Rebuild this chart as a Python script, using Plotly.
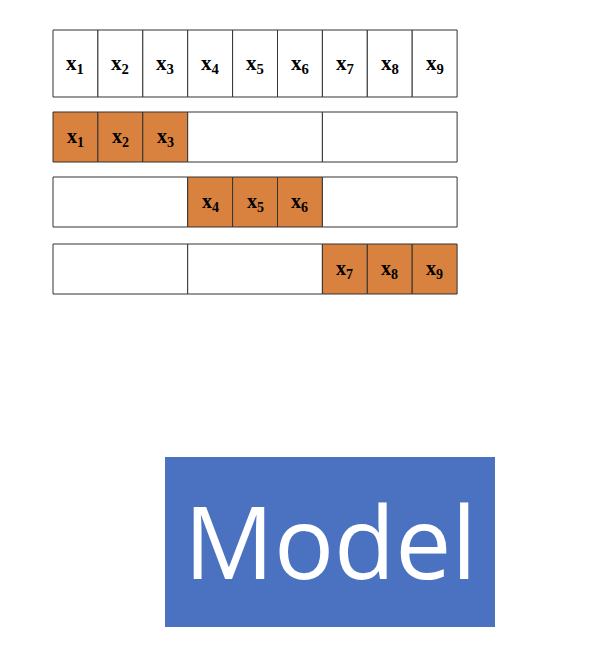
import plotly.graph_objects as go

# data
labels = ["x<sub>%d</sub>" % i for i in range(1, 10)]
groups = [[0, 1, 2], [3, 4, 5], [6, 7, 8]]   # which cells each split row keeps
model_text = "Model"

orange = "#d9823f"
blue = "#4a72c0"

off = 8                    # page body margin, compensate
x0, cw = 53 - off, 44.9
top_row = (30 - off, 97 - off)
split_rows = [(112 - off, 162 - off), (177 - off, 227 - off), (244 - off, 294 - off)]

fig = go.Figure()
shapes = []
annots = []

def cell_text(x, y, txt, size):
    annots.append(dict(x=x, y=y, text="<b>" + txt + "</b>", showarrow=False,
                       font=dict(family="Liberation Serif", size=size, color="black")))

# top row, all nine cells
for i, lab in enumerate(labels):
    shapes.append(dict(type="rect", x0=x0 + i*cw, x1=x0 + (i+1)*cw, y0=top_row[0], y1=top_row[1],
                       line=dict(color="#333", width=1), fillcolor="white"))
    cell_text(x0 + (i+0.5)*cw, (top_row[0]+top_row[1])/2, lab, 21)

# split rows
for r, (ya, yb) in enumerate(split_rows):
    for g, idx in enumerate(groups):
        if g == r:
            for i in idx:
                shapes.append(dict(type="rect", x0=x0 + i*cw, x1=x0 + (i+1)*cw, y0=ya, y1=yb,
                                   line=dict(color="#333", width=1), fillcolor=orange))
                cell_text(x0 + (i+0.5)*cw, (ya+yb)/2, labels[i], 20)
        else:
            shapes.append(dict(type="rect", x0=x0 + idx[0]*cw, x1=x0 + (idx[-1]+1)*cw, y0=ya, y1=yb,
                               line=dict(color="#333", width=1), fillcolor="white"))

# model box
shapes.append(dict(type="rect", x0=165 - off, x1=495 - off, y0=457 - off, y1=627 - off,
                   line=dict(width=0), fillcolor=blue))
annots.append(dict(x=330 - off, y=540 - off, text=model_text, showarrow=False,
                   font=dict(family="Open Sans", size=100, color="white")))

# faint top line
shapes.append(dict(type="line", x0=-10, x1=600, y0=5 - off, y1=5 - off, line=dict(color="#e4e6ee", width=3)))

fig.update_layout(width=598, height=648, margin=dict(l=0, r=0, t=0, b=0),
                  plot_bgcolor="white", paper_bgcolor="white",
                  shapes=shapes, annotations=annots, showlegend=False)
fig.update_xaxes(range=[0, 598], visible=False)
fig.update_yaxes(range=[648, 0], visible=False)

fig.write_html("out.html")
